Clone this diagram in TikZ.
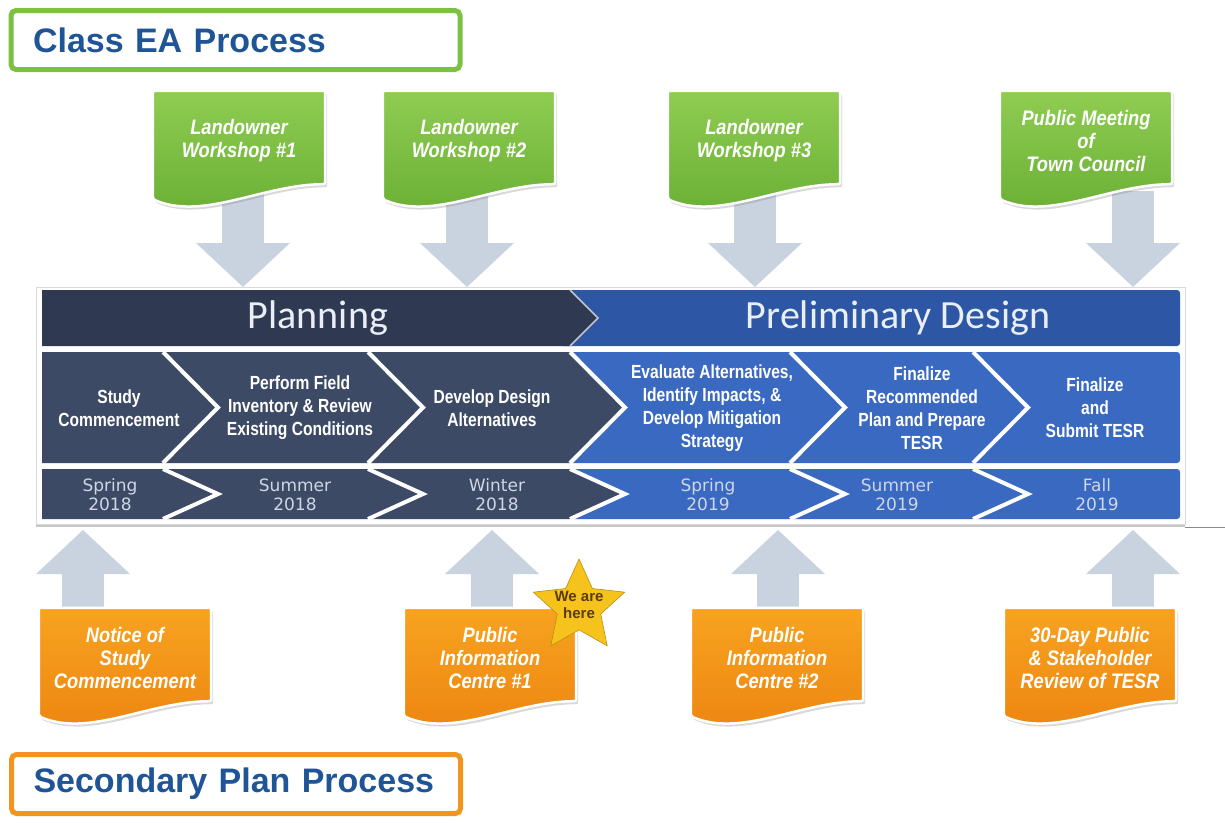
\documentclass[tikz,border=0pt]{standalone}
\usepackage{fontspec}
\setmainfont{Liberation Sans}
\newfontfamily\calloutfont{Liberation Sans}[FakeStretch=0.87]
\newfontfamily\cellfont{Liberation Sans}[FakeStretch=0.82]
\newfontfamily\datefont{DejaVu Sans}
\newfontfamily\bannerfont{Carlito}
\usepackage{xcolor}
\usepackage{tikz}
\usetikzlibrary{shapes.geometric,backgrounds}
\usetikzlibrary{arrows.meta,positioning}
\usetikzlibrary{calc,shadows}

\definecolor{titleblue}{HTML}{1F5597}
\definecolor{eagreen}{HTML}{7CC242}
\definecolor{spporange}{HTML}{F0961E}
\definecolor{greentop}{HTML}{8FCC52}
\definecolor{greenbot}{HTML}{68AE33}
\definecolor{orangetop}{HTML}{F8A320}
\definecolor{orangebot}{HTML}{EC8410}
\definecolor{navyband}{HTML}{2F3A52}
\definecolor{navycell}{HTML}{3D4A66}
\definecolor{blueband}{HTML}{2D56A5}
\definecolor{bluecell}{HTML}{3A69C2}
\definecolor{arrowgray}{HTML}{C9D3E0}
\definecolor{datetext}{HTML}{CFD6E4}
\definecolor{stargold}{HTML}{F6C21C}
\definecolor{startext}{HTML}{5A3C0E}

\begin{document}
\begin{tikzpicture}[x=1pt, y=-1pt,
processbox/.style={draw=#1, line width=5pt, rounded corners=5pt, fill=white,
    minimum height=59pt, text width=405pt, inner xsep=22pt, align=left,
    text=titleblue, font=\fontsize{34}{36}\selectfont\bfseries},
callout/.style={minimum width=172pt, minimum height=100pt, inner sep=0pt,
    align=center, text=white,
    font=\calloutfont\fontsize{21}{23}\selectfont\bfseries\itshape},
greendoc/.style={top color=greentop, bottom color=greenbot, draw=white,
    line width=2.5pt, rounded corners=2pt,
    drop shadow={shadow xshift=2pt, shadow yshift=-3pt, opacity=.3}},
orangedoc/.style={top color=orangetop, bottom color=orangebot, draw=white,
    line width=2.5pt, rounded corners=2pt,
    drop shadow={shadow xshift=2pt, shadow yshift=-3pt, opacity=.3}},
blockarrow/.style={draw=arrowgray, line width=42pt,
    -{Triangle[width=94pt, length=44pt, line width=0pt]}},
bandtitle/.style={text=white!90!blueband, font=\bannerfont\fontsize{40}{44}\selectfont},
steptext/.style={align=center, text=white,
    font=\cellfont\fontsize{19}{23}\selectfont\bfseries},
datetext/.style={align=center, text=datetext,
    font=\datefont\fontsize{17}{19}\selectfont},
notch/.style={white, line width=4pt},
herestar/.style={star, star points=5, star point ratio=2.1, minimum size=96pt,
    inner sep=0pt, fill=stargold, draw=stargold!75!black, line width=0.6pt}
                        ]
\useasboundingbox (0,0) rectangle (1225,822);
%
\node (eatitle) [processbox=eagreen]   at (235.5,40) {Class EA Process};
\node (sptitle) [processbox=spporange] at (236,784)  {Secondary Plan Process};
%
\coordinate (bandtop) at (0,287);
\coordinate (bandbot) at (0,530);
%
\fill[white, draw=black!15, line width=0.6pt,
      drop shadow={shadow xshift=0pt, shadow yshift=-3pt, opacity=.45}]
      (36,287) rectangle (1185,524);
\draw[black!45, line width=1pt] (1185,527) -- (1225,527);
% banner
\fill[blueband, rounded corners=3pt] (560,290) rectangle (1180,346);
\fill[navyband] (42,290) -- (570,290) -- (598,318) -- (570,346) -- (42,346) -- cycle;
\draw[white!70!navyband, line width=1.5pt] (570,290) -- (598,318) -- (570,346);
\node (plan)   [bandtitle] at (318,318) {Planning};
\node (prelim) [bandtitle] at (898,318) {Preliminary Design};
% steps
\fill[navycell] (42,352) -- (570,352) -- (625,407.5) -- (570,463) -- (42,463) -- cycle;
\fill[bluecell, rounded corners=3pt] (570,352) -- (1180,352) -- (1180,463) -- (570,463) -- (625,407.5) -- cycle;
\foreach \n in {163,368,570,790,973}
    \draw[notch] (\n,352) -- (\n+55,407.5) -- (\n,463);
% dates
\fill[navycell] (42,469) -- (570,469) -- (625,494) -- (570,519) -- (42,519) -- cycle;
\fill[bluecell, rounded corners=3pt] (570,469) -- (1180,469) -- (1180,519) -- (570,519) -- (625,494) -- cycle;
\foreach \n in {163,368,570,790,973}
    \draw[notch] (\n,469) -- (\n+55,494) -- (\n,519);
%
\foreach \nm/\cx/\txt in {s1/119/{Study\\Commencement},
        s2/300/{Perform Field\\Inventory \& Review\\Existing Conditions},
        s3/492/{Develop Design\\Alternatives},
        s4/712/{Evaluate Alternatives,\\Identify Impacts, \&\\Develop Mitigation\\Strategy},
        s5/922/{Finalize\\Recommended\\Plan and Prepare\\TESR},
        s6/1095/{Finalize\\and\\Submit TESR}}
    \node (\nm) [steptext] at (\cx,408) {\txt};
\foreach \nm/\cx/\txt in {d1/110/{Spring\\2018}, d2/295/{Summer\\2018},
        d3/497/{Winter\\2018}, d4/708/{Spring\\2019}, d5/897/{Summer\\2019},
        d6/1097/{Fall\\2019}}
    \node (\nm) [datetext] at (\cx,495) {\txt};
% callouts
\foreach \nm/\cx/\txt in {lw1/239/{Landowner\\Workshop \#1},
        lw2/469/{Landowner\\Workshop \#2},
        lw3/754/{Landowner\\Workshop \#3},
        pm/1086/{Public Meeting\\of\\Town Council}}
    \node (\nm) [callout] at (\cx,141) {\txt};
\foreach \nm/\cx/\txt in {sp1/125/{Notice of\\Study\\Commencement},
        sp2/490/{Public\\Information\\Centre \#1},
        sp3/777/{Public\\Information\\Centre \#2},
        sp4/1090/{30-Day Public\\\& Stakeholder\\Review of TESR}}
    \node (\nm) [callout] at (\cx,658) {\txt};
%
\begin{pgfonlayer}{background}
\foreach \nm/\dx in {lw1/4, lw2/-2, lw3/1, pm/47}
    \draw[blockarrow] ([xshift=\dx pt]\nm.south) -- ([xshift=\dx pt]\nm.south |- bandtop);
\foreach \nm/\dx in {sp1/-42, sp2/2, sp3/1, sp4/43}
    \draw[blockarrow] ([xshift=\dx pt]\nm.north) -- ([xshift=\dx pt]\nm.north |- bandbot);
\foreach \nm in {lw1,lw2,lw3,pm}
    \path[greendoc] (\nm.north west) -- (\nm.north east) -- ($(\nm.south east)+(0,-7)$)
        .. controls ($(\nm.south east)+(-62,-7)$) and ($(\nm.south west)+(50,30)$)
        .. ($(\nm.south west)+(0,8)$) -- cycle;
\foreach \nm in {sp1,sp2,sp3,sp4}
    \path[orangedoc] (\nm.north west) -- (\nm.north east) -- ($(\nm.south east)+(0,-7)$)
        .. controls ($(\nm.south east)+(-62,-7)$) and ($(\nm.south west)+(50,30)$)
        .. ($(\nm.south west)+(0,8)$) -- cycle;
\end{pgfonlayer}
%
\node (here) [herestar] at (579,607) {};
\node (heretxt) [align=center, text=startext, font=\fontsize{15}{17}\selectfont\bfseries]
    at ([yshift=2pt]here.center) {We are\\here};
\end{tikzpicture}
\end{document}
